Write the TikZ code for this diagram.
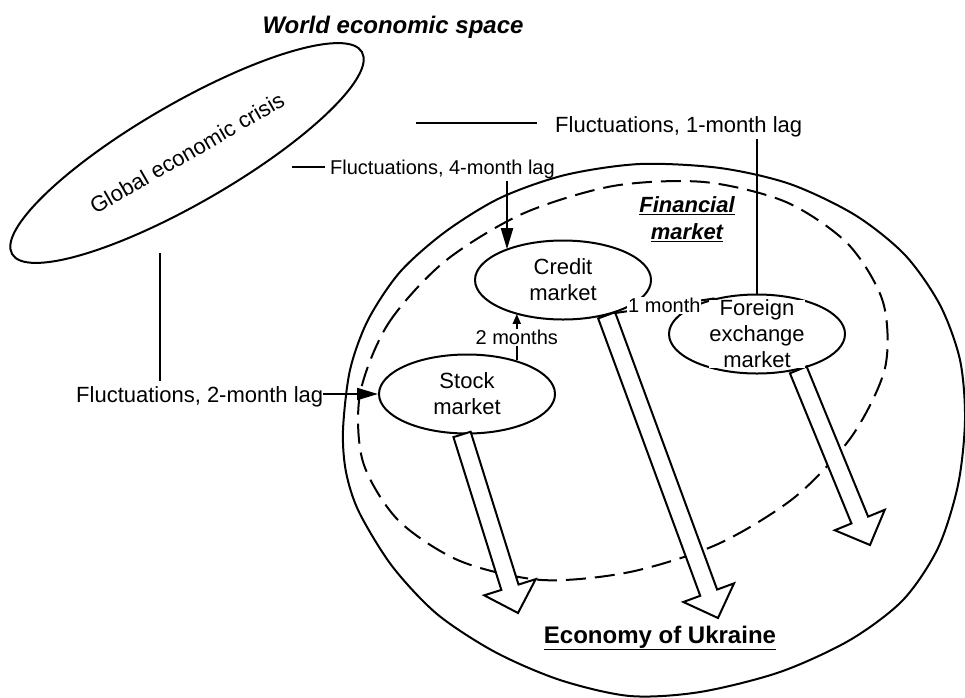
\documentclass[tikz,border=0pt]{standalone}
\usepackage{fontspec}
\setmainfont{Liberation Sans}
\usetikzlibrary{shapes.geometric,arrows.meta,calc}
\tikzset{
  ln/.style={line width=2pt},
  mkt/.style={ellipse, draw, line width=2pt, minimum width=176pt, minimum height=79pt,
    inner sep=0pt, align=center, font=\fontsize{22}{26}\selectfont},
  lbl/.style={inner sep=0pt, font=\fontsize{22}{26}\selectfont},
  smalltxt/.style={font=\fontsize{20}{24}\selectfont},
  bigarr/.style={line width=2pt, -{Triangle[length=21pt,width=12pt]}},
  smallarr/.style={line width=2pt, -{Triangle[length=10pt,width=8pt]}},
  blk/.style={line width=2pt, fill=white, line join=miter},
}
\newcommand{\blkarr}[2]{%
  \path ($(#2)!27pt!(#1)$) coordinate (bh);
  \draw[blk] ($(#1)!9pt!90:(#2)$) -- ($(bh)!9pt!90:(#2)$) -- ($(bh)!27pt!90:(#2)$) -- (#2)
    -- ($(bh)!27pt!-90:(#2)$) -- ($(bh)!9pt!-90:(#2)$) -- ($(#1)!9pt!-90:(#2)$) -- cycle;}
\begin{document}
\begin{tikzpicture}[x=1pt,y=-1pt]
\useasboundingbox (0,0) rectangle (965,697);

% Economy of Ukraine (outer solid)
\draw[ln] plot[smooth cycle] coordinates {
  (343,430) (350,370) (368,320) (400,272) (445,232) (500,198) (565,175) (640,164)
  (720,168) (790,184) (855,215) (905,255) (940,305) (960,360) (965,420) (958,485)
  (938,548) (903,600) (850,640) (780,672) (700,692) (630,696) (560,680) (495,652)
  (437,614) (392,566) (359,512) (346,472)};

% Financial market (dashed)
\draw[ln, dash pattern=on 20pt off 9pt] plot[smooth cycle] coordinates {
  (360,394) (388,324) (444,262) (522,214) (613,186) (704,182) (786,202) (848,244)
  (883,302) (885,368) (852,436) (795,497) (718,544) (630,572) (542,580) (460,561)
  (398,520) (363,462)};

% Title
\node[anchor=base, font=\fontsize{24}{28}\selectfont\bfseries\itshape] (ttl) at (393,33) {World economic space};

% Global economic crisis
\node[ellipse, draw, line width=2pt, rotate=30, minimum width=404pt, minimum height=100pt,
  inner sep=0pt, font=\fontsize{22}{26}\selectfont] (gec) at (187,153) {Global economic crisis};

% Markets
\node[mkt] (cm) at (563,280) {Credit\\market};
\node[mkt] (sm) at (467,394) {Stock\\market};
\node[mkt] (fx) at (757,334) {};

% Block arrows to the economy
\coordinate (sa) at (sm.-97);  \coordinate (ta) at (518,613);
\coordinate (sb) at (cm.-39);  \coordinate (tb) at (718,618);
\coordinate (sc) at (fx.-41);  \coordinate (tc) at (870,545);
\blkarr{sa}{ta}
\blkarr{sb}{tb}
\blkarr{sc}{tc}

\node[lbl, align=center, fill=white, inner sep=0.5pt, text depth=0pt] (fxt) at (fx.center) {Foreign\\exchange\\market};

% Labels
\node[align=center, font=\fontsize{22}{27}\selectfont\bfseries\itshape] (fin) at (687,219.5)
  {\underline{Financial}\\\underline{market}};
\node[anchor=base, font=\fontsize{24}{28}\selectfont\bfseries] (eco) at (660,643) {\underline{Economy of Ukraine}};

\node[lbl, anchor=base west] (f1) at (555,132) {Fluctuations, 1-month lag};
\node[lbl, smalltxt, anchor=base west] (f4) at (330,174) {Fluctuations, 4-month lag};
\node[lbl, anchor=base west] (f2) at (76,402) {Fluctuations, 2-month lag};

% Connectors
\coordinate (c1) at (416,123);
\draw[ln, shorten >=18pt] (c1) -- (c1 -| f1.west);
\coordinate (v1) at (757,139);
\draw[ln] (v1) -- (fx.north);

\coordinate (c4a) at (292,167);
\draw[ln, shorten >=5pt] (c4a) -- (c4a -| f4.west);
\coordinate (c4) at (507,181);
\draw[bigarr] (c4) -- (c4 |- cm.152);

\coordinate (c2) at (160,253);
\draw[ln, shorten >=5pt] (c2) -- (c2 |- f2.north);
\draw[bigarr] (sm.west -| f2.east) -- (sm.west);

\draw[smallarr] (sm.34) -- node[smalltxt, fill=white, inner sep=1pt] (l2) {2 months} (sm.34 |- cm.215);
\draw[ln] (cm.-33) -- node[smalltxt, fill=white, inner sep=1pt] (l1) {1 month} (fx.140);
\end{tikzpicture}
\end{document}
